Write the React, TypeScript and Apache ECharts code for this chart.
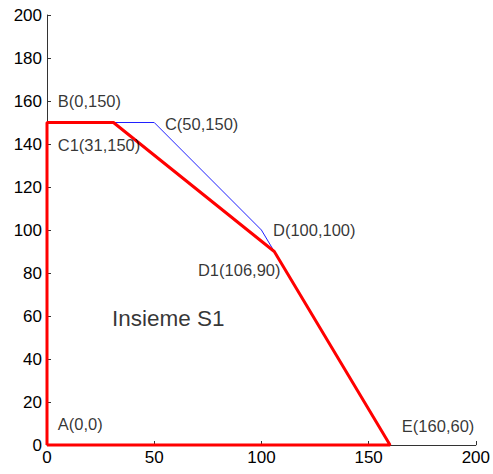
import React, { useEffect, useRef } from "react";
import * as echarts from "echarts";

const xTicks = [0, 50, 100, 150, 200];
const yTicks = [0, 20, 40, 60, 80, 100, 120, 140, 160, 180, 200];
const bluePolygon: [number, number][] = [
  [0, 0], [0, 150], [50, 150], [100, 100], [106, 90], [160, 0], [0, 0],
];
const redPolygon: [number, number][] = [
  [0, 0], [0, 150], [31, 150], [106, 90], [160, 0], [0, 0],
];
const pointLabels = ["B(0,150)", "C(50,150)", "C1(31,150)", "D(100,100)", "D1(106,90)", "A(0,0)", "E(160,60)"];
const labelAnchors: [number, number][] = [
  [5, 160], [55, 149.3], [5, 139.5], [105.4, 100], [70.4, 81.4], [5, 9.8], [165.5, 8.8],
];
const regionLabel = "Insieme S1";
const regionAnchor: [number, number] = [30.3, 59];

export default function App() {
  const ref = useRef<HTMLDivElement>(null);
  useEffect(() => {
    if (!ref.current) return;
    const chart = echarts.init(ref.current, null, { renderer: "svg" });
    const font = "Liberation Sans, Arial, sans-serif";
    chart.setOption({
      animation: false,
      backgroundColor: "#fff",
      grid: { left: 47, right: 17, top: 15, bottom: 29 },
      xAxis: {
        type: "value", min: xTicks[0], max: xTicks[xTicks.length - 1], interval: 50,
        axisLine: { show: true, lineStyle: { color: "#333", width: 1 } },
        axisTick: { show: true, inside: true, length: 4, lineStyle: { color: "#333" } },
        axisLabel: { color: "#000", fontSize: 17, fontFamily: font, margin: 4 },
        splitLine: { show: false },
      },
      yAxis: {
        type: "value", min: yTicks[0], max: yTicks[yTicks.length - 1], interval: 20,
        axisLine: { show: true, lineStyle: { color: "#333", width: 1 } },
        axisTick: { show: true, inside: true, length: 4, lineStyle: { color: "#333" } },
        axisLabel: { color: "#000", fontSize: 17, fontFamily: font, margin: 5 },
        splitLine: { show: false },
      },
      series: [
        {
          type: "line", data: bluePolygon, symbol: "none", clip: false, z: 2,
          lineStyle: { color: "#2020ff", width: 1 },
        },
        {
          type: "line", data: redPolygon, symbol: "none", clip: false, z: 3,
          lineStyle: { color: "#ff0000", width: 3 },
        },
        {
          type: "scatter", symbolSize: 0, z: 4,
          data: labelAnchors.map((p, i) => ({ value: p, name: pointLabels[i] })),
          label: {
            show: true, position: "right", distance: 0, formatter: "{b}",
            color: "#000", fontSize: 16.5, fontFamily: font,
          },
        },
        {
          type: "scatter", symbolSize: 0, z: 4,
          data: [{ value: regionAnchor, name: regionLabel }],
          label: {
            show: true, position: "right", distance: 0, formatter: "{b}",
            color: "#000", fontSize: 22.5, fontFamily: font,
          },
        },
      ],
    });
    return () => chart.dispose();
  }, []);
  return <div ref={ref} style={{ width: 493, height: 474, position: "absolute", left: 0, top: 0 }} />;
}
